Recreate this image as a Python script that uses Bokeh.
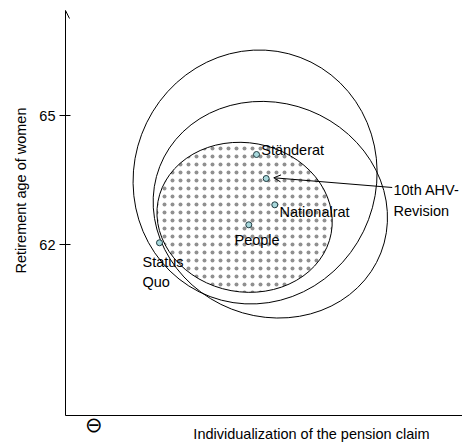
import numpy as np
from bokeh.plotting import figure
from bokeh.models import Range1d, FixedTicker, Arrow, OpenHead, ColumnDataSource, LinearAxis, Title
from bokeh.core.properties import value
from bokeh.embed import file_html
from bokeh.resources import INLINE

# ---- data ----
actor_names = ["Status Quo", "People", "Nationalrat", "Ständerat", "10th AHV-Revision"]
actor_x = [2.186, 4.263, 4.867, 4.442, 4.667]          # individualization (arbitrary units)
actor_y = [62.04, 62.458, 62.923, 64.093, 63.535]      # retirement age of women

# indifference curves (ellipses): centre, width, height, angle
curve_names = ["outer", "middle", "people winset"]
curve_x = [4.409, 4.763, 4.165]
curve_y = [63.57, 62.809, 62.632]
curve_w = [5.944, 4.961, 3.467]
curve_h = [5.637, 5.521, 4.097]
curve_angle = [-1.9309, 1.1982, 1.3883]

y_ticks = [62, 65]
y_title = "Retirement age of women"
x_title = "Individualization of the pension claim"
x_title_at = 5.72
minus_at = 0.66

# ---- layout constants ----
PX = 43.0          # pixels per unit on both axes
FONT = "Liberation Sans"
FS = "14.5px"

x_lo, x_hi = 0.0, 397 / PX
y_lo, y_hi = 65 - 300 / PX, 65 + 105 / PX

p = figure(width=462, height=442, frame_width=397, frame_height=405,
           min_border_left=65, min_border_right=0, min_border_top=10, min_border_bottom=27,
           x_range=Range1d(x_lo, x_hi), y_range=Range1d(y_lo, y_hi),
           output_backend="svg", toolbar_location=None, outline_line_color=None)
p.grid.visible = False

# curves
cs = ColumnDataSource(dict(x=curve_x, y=curve_y, w=curve_w, h=curve_h, a=curve_angle))
p.ellipse(x=curve_x[2:], y=curve_y[2:], width=curve_w[2:], height=curve_h[2:], angle=curve_angle[2:],
          fill_color=None, line_color=None, hatch_pattern="dot", hatch_color="#909090", hatch_scale=8)
p.ellipse(x="x", y="y", width="w", height="h", angle="a", source=cs,
          fill_color=None, line_color="black", line_width=1)

# arrow to 10th AHV revision
ahv_i = 4
arrow_dx_start, arrow_dy_start = 126.0, 9.0     # px from the point (screen, y down)
arrow_dx_end, arrow_dy_end = 7.6, -0.7
p.add_layout(Arrow(end=OpenHead(size=7, line_width=1, line_color="black"),
                   x_start=actor_x[ahv_i] + arrow_dx_start / PX, y_start=actor_y[ahv_i] - arrow_dy_start / PX,
                   x_end=actor_x[ahv_i] + arrow_dx_end / PX, y_end=actor_y[ahv_i] - arrow_dy_end / PX,
                   line_color="black", line_width=1))

# actor points
p.scatter(actor_x, actor_y, size=6, fill_color="#a8d8dc", line_color="#1e3a40", line_width=1)

# actor labels: (text, point index, dx px, dy px)
label_specs = [("Status\nQuo", 0, -17.0, 29.5),
               ("People", 1, -14.3, 15.2),
               ("Nationalrat", 2, 4.7, 6.7),
               ("Ständerat", 3, 4.7, -5.0),
               ("10th AHV-\nRevision", 4, 127.3, 22.0)]
lx = [actor_x[i] + dx / PX for _, i, dx, dy in label_specs]
ly = [actor_y[i] - dy / PX for _, i, dx, dy in label_specs]
p.text(x=lx, y=ly, text=[t for t, *_ in label_specs], text_font=value(FONT), text_font_size=FS,
       text_align="left", text_baseline="middle", text_line_height=1.27, text_color="black")

# y axis
p.yaxis.ticker = FixedTicker(ticks=y_ticks)
p.yaxis.minor_tick_line_color = None
p.yaxis.major_tick_out = 6
p.yaxis.major_tick_in = 5
p.yaxis.major_label_standoff = 4
p.yaxis.major_label_text_font = FONT
p.yaxis.major_label_text_font_size = FS
p.yaxis.major_label_text_color = "black"
p.yaxis.axis_line_color = "black"
p.yaxis.major_tick_line_color = "black"

# x axis: line plus its title placed as a label
p.xaxis.ticker = FixedTicker(ticks=[x_title_at])
p.xaxis.major_label_overrides = {x_title_at: x_title}
p.xaxis.minor_tick_line_color = None
p.xaxis.major_tick_line_color = None
p.xaxis.major_tick_out = 0
p.xaxis.major_tick_in = 0
p.xaxis.major_label_standoff = 10
p.xaxis.major_label_text_font = FONT
p.xaxis.major_label_text_font_size = FS
p.xaxis.major_label_text_color = "black"
p.xaxis.axis_line_color = "black"

# the minus sign at the low end of the x axis (second, line-less axis)
xm = LinearAxis(ticker=FixedTicker(ticks=[minus_at]), major_label_overrides={minus_at: "⊖"},
                axis_line_color=None, major_tick_line_color=None, minor_tick_line_color=None,
                major_tick_out=0, major_tick_in=0, major_label_standoff=-32,
                major_label_text_font="DejaVu Sans", major_label_text_font_size="21px",
                major_label_text_color="black")
p.add_layout(xm, "below")

# y title (right end of the rotated text = its top)
p.add_layout(Title(text=y_title, align="right", offset=97, vertical_align="middle", standoff=14,
                   text_font=FONT, text_font_size=FS, text_font_style="normal", text_color="black"), "left")

# y-axis arrow head
p.add_layout(Arrow(end=OpenHead(size=8, line_width=1, line_color="black"),
                   x_start=x_lo, y_start=y_lo, x_end=x_lo, y_end=y_hi,
                   line_color="black", line_width=1))

open("out.html", "w").write(file_html(p, INLINE))
